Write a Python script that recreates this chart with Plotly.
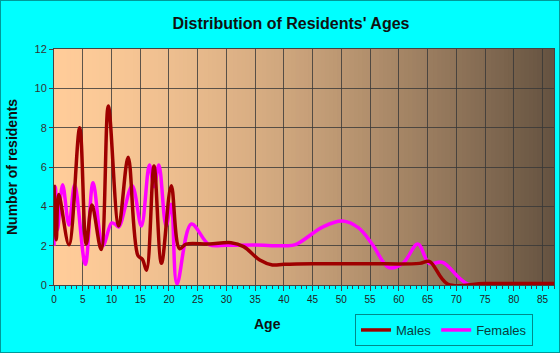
import plotly.graph_objects as go

# ---- data ----
male_age = [0, 0.4, 0.82, 2.6, 4.47, 5.6, 6.6, 8.2, 9.45, 11.25, 12.9, 14.6, 15.4, 16.1,
            17.4, 18.7, 20.4, 21.85, 23, 27, 30.8, 33, 35.8, 38, 40, 45, 55, 63.6, 65.3,
            68.5, 75, 87]
male_val = [5.1, 2.3, 4.6, 2.05, 8.0, 2.08, 4.07, 1.8, 9.1, 3.0, 6.5, 1.5, 1.3, 0.75,
            6.05, 1.1, 5.05, 1.85, 2.08, 2.08, 2.15, 1.95, 1.27, 1.02, 1.05, 1.08, 1.08, 1.1, 1.2,
            0.05, 0.08, 0.08]

female_age = [0, 0.25, 0.6, 1.5, 2.6, 3.6, 5.45, 6.8, 8.5, 10.0, 10.6, 11.25, 13.6, 15.2,
              16.6, 17.4, 18.25, 19.5, 20.4, 21.4, 23.9, 27, 30, 35, 40, 42, 46.8, 50.2,
              53, 55.4, 58.3, 60.7, 63.3, 65.3, 67.6, 72, 80, 87]
female_val = [2.0, 5.0, 2.8, 5.1, 3.05, 5.1, 1.05, 5.2, 2.0, 3.15, 3.1, 2.95, 5.05, 3.0,
              6.1, 5.0, 6.1, 3.0, 4.1, 0.05, 3.1, 2.05, 2.02, 2.03, 2.0, 2.05, 2.96, 3.25,
              2.9, 2.06, 0.88, 1.1, 2.08, 1.1, 1.15, 0.05, 0.02, 0.02]

x_max = 87
y_max = 12

W, H = 560, 353
ML, MR, MT, MB = 54, 6, 49, 68
PW, PH = W - ML - MR, H - MT - MB

FONT = "Liberation Sans, Arial, sans-serif"
CYAN = "#00FFFF"

fig = go.Figure()
fig.add_trace(go.Scatter(x=female_age, y=female_val, name="Females", mode="lines",
                         line=dict(color="#FF00FF", width=3.5, shape="spline", smoothing=1.0),
                         legendrank=2))
fig.add_trace(go.Scatter(x=male_age, y=male_val, name="Males", mode="lines",
                         line=dict(color="#9E0000", width=3.5, shape="spline", smoothing=1.0),
                         legendrank=1))

# horizontal gradient background for the plot area
N = 120
c0 = (255, 204, 153)
c1 = (100, 82, 64)
shapes = []
for i in range(N):
    t = (i + 0.5) / N
    e = t ** 1.5
    col = tuple(int(round(a + (b - a) * e)) for a, b in zip(c0, c1))
    shapes.append(dict(type="rect", xref="x domain", yref="y domain",
                       x0=i / N, x1=(i + 1) / N + 0.002, y0=0, y1=1,
                       fillcolor="rgb(%d,%d,%d)" % col, line=dict(width=0), layer="below"))
# outer border of the image
shapes.append(dict(type="rect", xref="paper", yref="paper",
                   x0=-ML / PW, x1=(W - ML) / PW, y0=-MB / PH, y1=(H - MB) / PH,
                   line=dict(color="#009999", width=2), fillcolor="rgba(0,0,0,0)", layer="above"))

fig.update_layout(
    width=W, height=H,
    margin=dict(l=ML, r=MR, t=MT, b=MB),
    paper_bgcolor=CYAN,
    plot_bgcolor="rgb(255,204,153)",
    shapes=shapes,
    title=dict(text="<b>Distribution of Residents' Ages</b>", x=291 / W, xanchor="center",
               y=1 - 23 / H, yanchor="middle",
               font=dict(family=FONT, size=16, color="#111111")),
    showlegend=True,
    legend=dict(orientation="h", x=(444 - ML) / PW, y=-(314 - (H - MB)) / PH,
                xanchor="center", yanchor="top", bgcolor=CYAN, bordercolor="#008B8B",
                borderwidth=1, font=dict(family=FONT, size=13, color="#0A3C3C"),
                itemwidth=30, tracegroupgap=0),
    xaxis=dict(range=[0, x_max], tick0=0, dtick=5, ticks="outside", ticklen=5,
               tickcolor="#444444", showgrid=True, gridcolor="rgba(55,55,55,0.8)", gridwidth=1,
               showline=True, linecolor="#444444", linewidth=1, mirror=True, zeroline=False,
               tickfont=dict(family=FONT, size=10, color="#222222"),
               minor=dict(dtick=1, ticks="outside", ticklen=3, tickcolor="#444444", showgrid=False)),
    yaxis=dict(range=[0, y_max], tick0=0, dtick=2, ticks="outside", ticklen=4,
               tickcolor="#444444", showgrid=True, gridcolor="rgba(55,55,55,0.8)", gridwidth=1,
               showline=True, linecolor="#444444", linewidth=1, mirror=True, zeroline=False,
               tickfont=dict(family=FONT, size=11, color="#333333")),
    annotations=[
        dict(text="<b>Age</b>", xref="paper", yref="paper", x=(267 - ML) / PW,
             y=-(324 - (H - MB)) / PH, showarrow=False, xanchor="center", yanchor="middle",
             font=dict(family=FONT, size=14, color="#111111")),
        dict(text="<b>Number of residents</b>", xref="paper", yref="paper", x=(12 - ML) / PW,
             y=0.5, showarrow=False, textangle=-90, xanchor="center", yanchor="middle",
             font=dict(family=FONT, size=14, color="#111111")),
    ],
)

fig.write_html("out.html")
